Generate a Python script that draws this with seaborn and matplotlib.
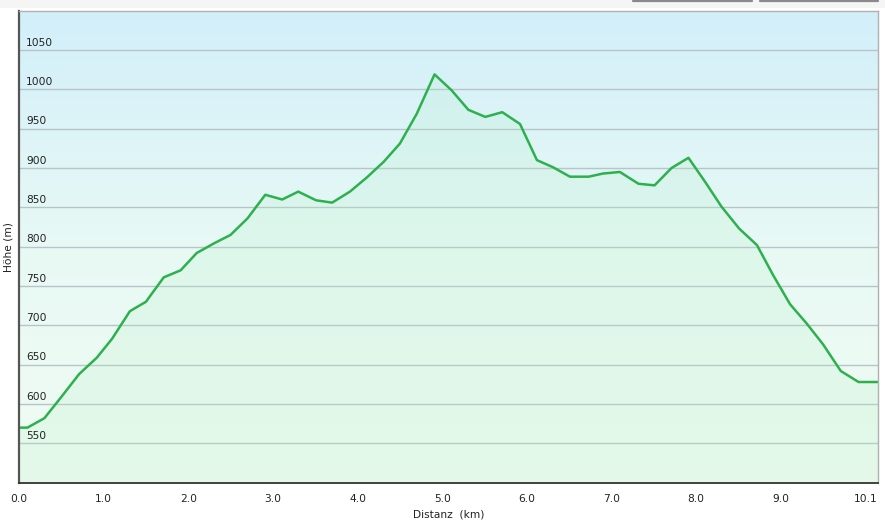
import numpy as np
import pandas as pd
import matplotlib
matplotlib.use("Agg")
import matplotlib.pyplot as plt
from matplotlib.colors import LinearSegmentedColormap
from matplotlib.lines import Line2D
from matplotlib.patches import Rectangle
import seaborn as sns

# ---- data ----
distance_km = [0.00, 0.10, 0.30, 0.50, 0.71, 0.92, 1.10, 1.31, 1.50, 1.71, 1.91,
               2.10, 2.30, 2.50, 2.70, 2.91, 3.11, 3.30, 3.51, 3.70, 3.91,
               4.11, 4.31, 4.50, 4.70, 4.91, 5.11, 5.31, 5.51, 5.71, 5.92,
               6.12, 6.31, 6.51, 6.73, 6.90, 7.10, 7.32, 7.51, 7.71, 7.91,
               8.11, 8.30, 8.51, 8.72, 8.91, 9.11, 9.31, 9.50, 9.71, 9.92, 10.15]
elevation_m = [570, 570, 582, 609, 638, 659, 683, 718, 730, 761, 770,
               792, 804, 815, 836, 866, 860, 870, 859, 856, 870,
               888, 908, 931, 969, 1019, 999, 974, 965, 971, 956,
               910, 901, 889, 889, 893, 895, 880, 878, 900, 913,
               882, 851, 823, 802, 764, 727, 702, 676, 642, 628, 628]
x_ticks = [0, 1, 2, 3, 4, 5, 6, 7, 8, 9, 10.15]
x_tick_labels = ["0.0", "1.0", "2.0", "3.0", "4.0", "5.0", "6.0", "7.0", "8.0", "9.0", "10.1"]
y_grid = [550, 600, 650, 700, 750, 800, 850, 900, 950, 1000, 1050]
y_tick_labels = ["550", "600", "650", "700", "750", "800", "850", "900", "950", "1000", "1050"]

df = pd.DataFrame({"Distanz": distance_km, "Höhe": elevation_m})

sns.set_style("white")
plt.rcParams["font.family"] = ["DejaVu Sans"]

W, H = 885, 524
fig = plt.figure(figsize=(W / 100, H / 100), dpi=100)
fig.patch.set_facecolor("white")

# top strip and button edges
fig.patches.append(Rectangle((0, 1 - 8 / H), 1, 8 / H, transform=fig.transFigure,
                             facecolor="#f5f5f5", edgecolor="none", zorder=0))
for x0, x1 in [(633, 752), (760, 878)]:
    fig.lines.append(Line2D([x0 / W, x1 / W], [1 - 1.2 / H, 1 - 1.2 / H],
                            transform=fig.transFigure, color="#8a8a8a", lw=1.6))

left, right, top, bottom = 19, 878, 10.7, 482.7
ax = fig.add_axes([left / W, 1 - bottom / H, (right - left) / W, (bottom - top) / H])

xmin, xmax, ymin, ymax = 0, 10.15, 500, 1100
ax.set_xlim(xmin, xmax)
ax.set_ylim(ymin, ymax)

# gradient background
cmap = LinearSegmentedColormap.from_list("bg", ["#f0fcf2", "#e8f9f5", "#d2effa"])
grad = np.linspace(0, 1, 256).reshape(-1, 1)
ax.imshow(grad, extent=[xmin, xmax, ymin, ymax], origin="lower", aspect="auto",
          cmap=cmap, zorder=0)

# grid lines
for g in y_grid:
    ax.axhline(g, color="#b7c4c8", lw=1.0, zorder=1)

# fill under profile
ax.fill_between(df["Distanz"], df["Höhe"], ymin, color="#b5efc6", alpha=0.2, lw=0, zorder=2)

sns.lineplot(data=df, x="Distanz", y="Höhe", ax=ax, color="#2db14e", lw=1.8,
             zorder=3, sort=False)

# y labels inside the plot, above grid lines
for g, lab in zip(y_grid, y_tick_labels):
    ax.text(7 / (right - left), g + 3, lab, transform=ax.get_yaxis_transform(),
            ha="left", va="bottom", fontsize=7.7, color="#222222", zorder=4)
ax.set_yticks([])

ax.set_xticks(x_ticks)
ax.set_xticklabels(x_tick_labels, fontsize=7.7, color="#222222")
ax.get_xticklabels()[-1].set_horizontalalignment("right")
ax.tick_params(axis="x", direction="out", length=4, width=1.2, color="#444444", pad=4)

ax.set_xlabel("Distanz  (km)", fontsize=7.7, color="#222222", labelpad=4)
ax.set_ylabel("Höhe (m)", fontsize=7.7, color="#222222")
ax.yaxis.set_label_coords(-5.5 / (right - left), 0.5)

for s in ["top", "right"]:
    ax.spines[s].set_color("#b0b0b0")
    ax.spines[s].set_linewidth(1.0)
ax.spines["left"].set_color("#555555")
ax.spines["left"].set_linewidth(1.6)
ax.spines["bottom"].set_color("#333333")
ax.spines["bottom"].set_linewidth(1.3)
for s in ax.spines.values():
    s.set_zorder(5)

fig.savefig("out.png", dpi=100)
